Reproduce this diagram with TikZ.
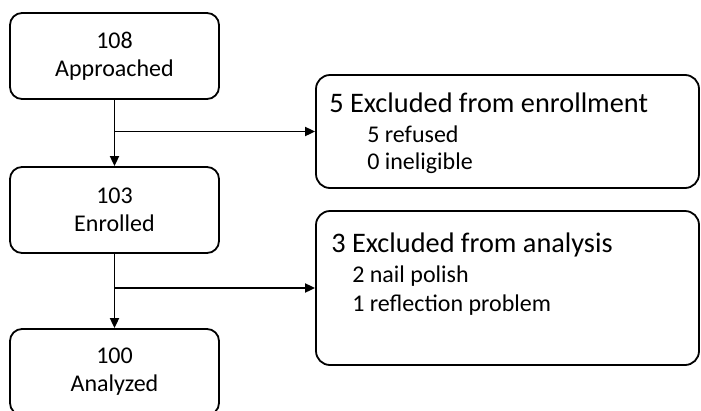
\documentclass[tikz,border=0pt]{standalone}
\usepackage{fontspec}
\setmainfont{Carlito}
\usetikzlibrary{arrows.meta,positioning}

\tikzset{
  box/.style={draw=black, line width=1.8pt, rounded corners=12pt, minimum width=209pt, minimum height=86pt, inner sep=0pt, align=center, font=\fontsize{24}{28}\selectfont},
  exbox/.style={draw=black, line width=1.8pt, rounded corners=14pt, minimum width=383pt, inner sep=0pt},
  head/.style={anchor=base west, inner sep=0pt, font=\fontsize{28.3}{30}\selectfont},
  sub/.style={anchor=base west, inner sep=0pt, font=\fontsize{24}{27}\selectfont},
  arr/.style={line width=1.8pt, -{Triangle[length=10pt,width=9pt]}}
}

\begin{document}
\begin{tikzpicture}[x=1pt,y=-1pt]
\useasboundingbox (0,0) rectangle (701,410);
\clip (0,0) rectangle (701,410);
% main flow
\node[box] (appr) at (114.5,56) {108\\Approached};
\node[box] (enrl) at (114.5,210) {103\\Enrolled};
\node[box] (anlz) at (114.5,372) {100\\Analyzed};
% exclusions
\node[exbox, minimum height=113pt] (exen) at (507.5,131.5) {};
\node[exbox, minimum height=154pt] (exan) at (507.5,288) {};
\node[head] (exenT) at ([shift={(14,38)}]exen.north west) {5 Excluded from enrollment};
\node[sub] (exenA) at ([shift={(52,68)}]exen.north west) {5 refused};
\node[sub] (exenB) at ([shift={(52,95)}]exen.north west) {0 ineligible};
\node[head] (exanT) at ([shift={(16,42)}]exan.north west) {3 Excluded from analysis};
\node[sub] (exanA) at ([shift={(37,72)}]exan.north west) {2 nail polish};
\node[sub] (exanB) at ([shift={(37,101)}]exan.north west) {1 reflection problem};
% connectors
\coordinate (j1) at (appr.south |- exen.west);
\coordinate (j2) at (enrl.south |- exan.west);
\draw[arr] (appr.south) -- (enrl.north);
\draw[arr] (j1) -- (exen.west);
\draw[arr] (enrl.south) -- (anlz.north);
\draw[arr] (j2) -- (exan.west);
\end{tikzpicture}
\end{document}
